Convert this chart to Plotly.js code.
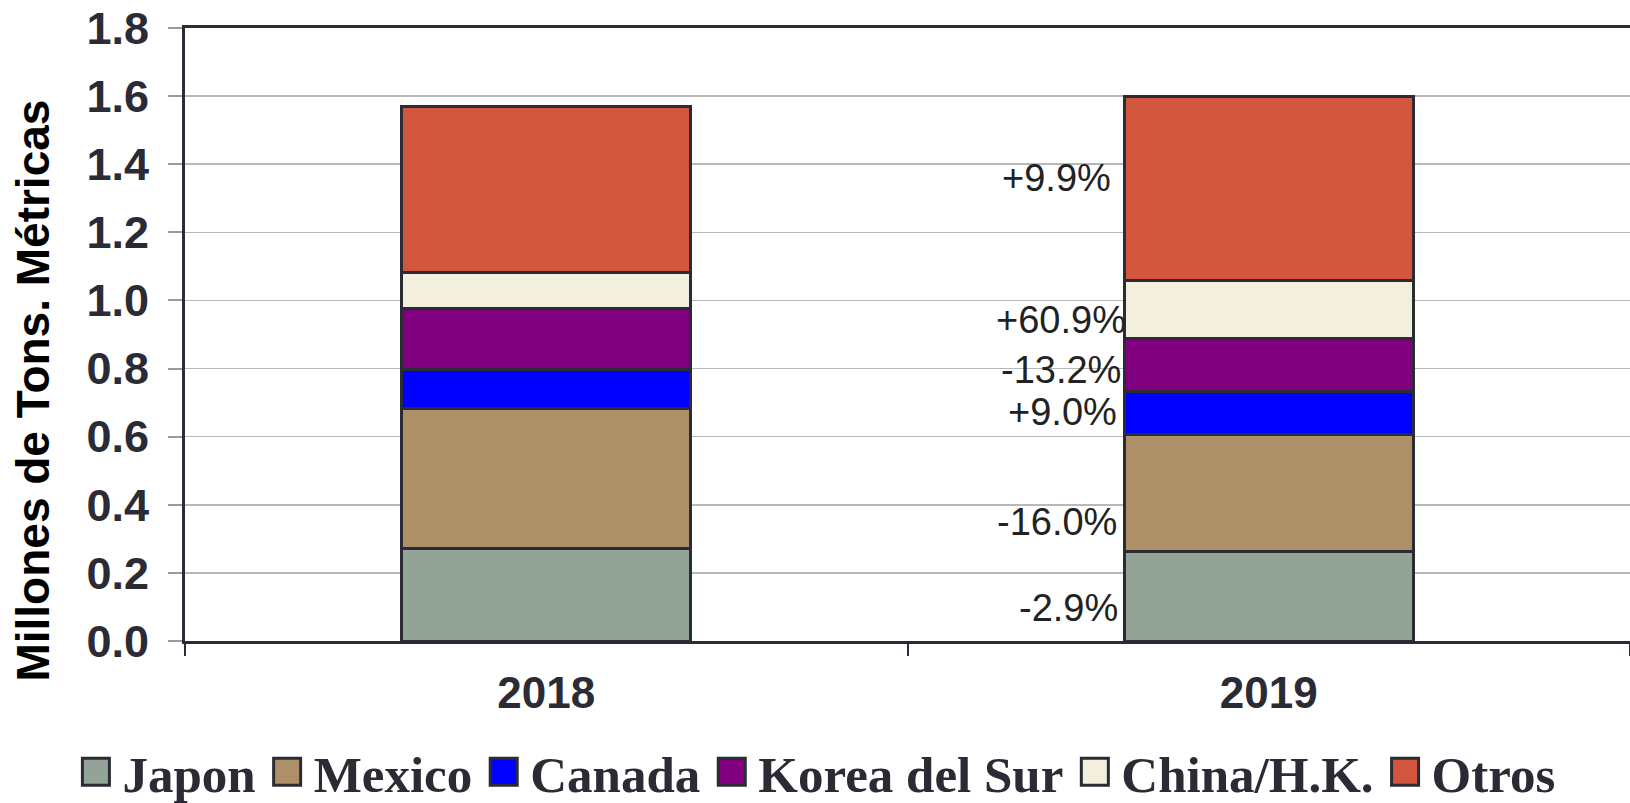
<!DOCTYPE html>
<html>
<head>
<meta charset="utf-8">
<script src="https://cdn.plot.ly/plotly-3.0.1.min.js"></script>
<style>
  html, body { margin: 0; padding: 0; background: #ffffff; }
  #chart { width: 1630px; height: 803px; }
</style>
</head>
<body>
<div id="chart"></div>
<script>
// ---- data (millones de toneladas métricas) ----
const years = ['2018', '2019'];
const seriesNames = ['Japon', 'Mexico', 'Canada', 'Korea del Sur', 'China/H.K.', 'Otros'];
const japon  = [0.273, 0.264];
const mexico = [0.409, 0.343];
const canada = [0.115, 0.127];
const korea  = [0.179, 0.153];
const china  = [0.105, 0.171];
const otros  = [0.489, 0.541];
const changeLabels = ['-2.9%', '-16.0%', '+9.0%', '-13.2%', '+60.9%', '+9.9%'];
const yTickValues = [0, 0.2, 0.4, 0.6, 0.8, 1.0, 1.2, 1.4, 1.6, 1.8];

// ---- styles ----
const colors = ['#94a397', '#ad8f68', '#0000ff', '#800080', '#f2f0dc', '#d2553d'];
const edge = '#2b2b35';
const labelXShift = [-149, -150, -150, -146, -141, -156];
const labelYShift = [-12, -29, 1, -5, -10, 11];

const allSeries = [japon, mexico, canada, korea, china, otros];

const traces = allSeries.map((vals, i) => ({
  type: 'bar',
  name: seriesNames[i],
  x: years,
  y: vals,
  width: 0.4,
  marker: { color: colors[i], line: { color: edge, width: 3 } },
  hoverinfo: 'x+y+name'
}));

// annotations next to the 2019 bar, anchored at the middle of each segment
const annotations = [];
const idx2019 = years.indexOf('2019');
let cum = 0;
allSeries.forEach((vals, i) => {
  const v = vals[idx2019];
  annotations.push({
    x: idx2019, xref: 'x',
    y: cum + v / 2, yref: 'y',
    text: changeLabels[i],
    showarrow: false,
    xanchor: 'right', yanchor: 'middle',
    xshift: labelXShift[i], yshift: labelYShift[i],
    font: { family: 'Liberation Sans, Arial, sans-serif', size: 38, color: '#222222' }
  });
  cum += v;
});

annotations.push({
  text: 'Millones de Tons. Métricas',
  xref: 'paper', yref: 'paper',
  x: -0.105, y: 0.409,
  xanchor: 'center', yanchor: 'middle',
  textangle: -90,
  showarrow: false,
  font: { family: 'Liberation Sans, Arial, sans-serif', size: 46, weight: 'bold', color: '#000000' }
});

const layout = {
  width: 1630, height: 803,
  margin: { l: 185, r: 0, t: 28, b: 162, autoexpand: false },
  paper_bgcolor: '#ffffff',
  plot_bgcolor: '#ffffff',
  barmode: 'stack',
  showlegend: true,
  legend: {
    orientation: 'h',
    x: -0.080, xanchor: 'left',
    y: -0.214, yanchor: 'middle',
    itemwidth: 43,
    traceorder: 'normal',
    font: { family: 'Liberation Serif, Times New Roman, serif', size: 51, weight: 'bold', color: edge },
    bgcolor: 'rgba(0,0,0,0)'
  },
  xaxis: {
    type: 'category',
    range: [-0.5, 1.5],
    showline: true, linecolor: edge, linewidth: 3,
    mirror: true,
    ticks: 'outside', ticklen: 12, tickwidth: 2, tickcolor: edge,
    tickson: 'boundaries',
    showgrid: false,
    tickangle: 0,
    tickfont: { family: 'Liberation Sans, Arial, sans-serif', size: 44, weight: 'bold', color: edge },
    ticklabelstandoff: 11
  },
  yaxis: {
    range: [0, 1.8],
    tickvals: yTickValues,
    tickformat: '.1f',
    showline: true, linecolor: edge, linewidth: 3,
    ticks: 'outside', ticklen: 14, tickwidth: 2, tickcolor: '#9a9a9a',
    showgrid: true, gridcolor: '#b8b8b8', gridwidth: 1.5,
    zeroline: false,
    tickfont: { family: 'Liberation Sans, Arial, sans-serif', size: 45, weight: 'bold', color: edge },
    ticklabelstandoff: 10
  },
  annotations: annotations
};

Plotly.newPlot('chart', traces, layout, { displayModeBar: false, staticPlot: true }).then(() => {
  document.querySelectorAll('#chart .legend path.legendbar, #chart .legend .legendpoints path').forEach(p => {
    p.setAttribute('d', 'M13.5,13.5H-13.5V-13.5H13.5Z');
    p.style.strokeWidth = '3px';
    p.style.stroke = edge;
  });
});
</script>
</body>
</html>
